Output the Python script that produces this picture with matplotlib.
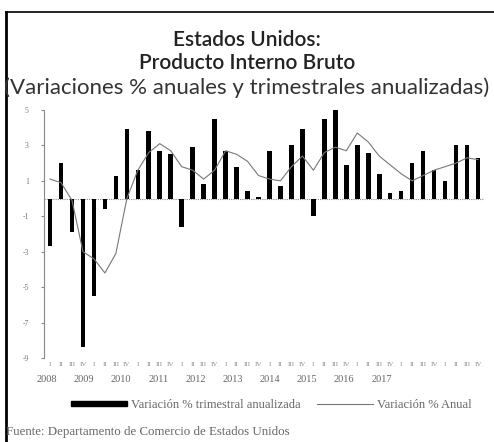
import numpy as np
import matplotlib
matplotlib.use("Agg")
import matplotlib.pyplot as plt
from matplotlib.patches import Patch
from matplotlib.lines import Line2D
import matplotlib.transforms as mtransforms

# Data
years = ["2008", "2009", "2010", "2011", "2012", "2013", "2014", "2015", "2016", "2017"]
quarters = ["I", "II", "III", "IV"]
trimestral = [-2.7, 2.0, -1.9, -8.4, -5.5, -0.6, 1.3, 3.9, 1.6, 3.8,
              2.7, 2.5, -1.6, 2.9, 0.8, 4.5, 2.7, 1.8, 0.4, 0.1,
              2.7, 0.7, 3.0, 3.9, -1.0, 4.5, 5.0, 1.9, 3.0, 2.6,
              1.4, 0.3, 0.4, 2.0, 2.7, 1.6, 1.0, 3.0, 3.0, 2.3]
anual = [1.1, 0.9, -0.1, -3.0, -3.4, -4.2, -3.1, 0.0, 1.6, 2.6,
         3.1, 2.7, 1.8, 1.6, 1.1, 1.6, 2.7, 2.5, 2.1, 1.3,
         1.1, 1.0, 1.8, 2.4, 1.6, 2.6, 2.9, 2.7, 3.7, 3.2,
         2.4, 1.9, 1.4, 1.0, 1.3, 1.6, 1.8, 2.0, 2.3, 2.2]
yticks = [5, 3, 1, -1, -3, -5, -7, -9]

W, H = 494, 442
fig = plt.figure(figsize=(W / 100, H / 100), dpi=100)
ax = fig.add_axes([44 / W, 1 - 358 / H, 440 / W, 248 / H])

x = np.arange(len(trimestral))
ax.bar(x, trimestral, width=0.42, color="black", zorder=2)
ax.plot(x, anual, color="#777777", lw=0.8, zorder=3)

ax.set_xlim(-0.55, len(x) - 0.45)
ax.set_ylim(-9, 5)
ax.axhline(0, color="#888888", lw=0.8, ls=(0, (1, 1)), zorder=1)

for s in ["top", "right", "bottom"]:
    ax.spines[s].set_visible(False)
ax.spines["left"].set_color("#888888")
ax.spines["left"].set_linestyle((0, (1, 1)))
ax.spines["left"].set_linewidth(0.8)

ax.set_yticks(yticks)
ax.set_yticklabels([str(v) for v in yticks], fontsize=5.5, color="#777777",
                   family="Liberation Serif")
ax.tick_params(axis="y", length=2, color="#888888", pad=9)

ax.set_xticks(x)
ax.set_xticklabels(quarters * len(years), fontsize=5, color="#888888",
                   family="Liberation Serif")
ax.tick_params(axis="x", length=0, pad=3)

trans = mtransforms.blended_transform_factory(ax.transData, fig.transFigure)
for k, yr in enumerate(years):
    ax.text(-0.3 + 3.39 * k, 1 - 380 / H, yr, transform=trans, ha="center",
            va="center", fontsize=7.5, color="#666666", family="Liberation Serif")

# Titles
tfam = ["Lato", "DejaVu Sans"]
fig.text(0.5, 1 - 40 / H, "Estados Unidos:", ha="center", va="center",
         fontsize=15, family=tfam, color="#222222", fontweight="semibold")
fig.text(0.5, 1 - 63 / H, "Producto Interno Bruto", ha="center", va="center",
         fontsize=15, family=tfam, color="#222222", fontweight="semibold")
fig.text(0.5, 1 - 88 / H, "(Variaciones % anuales y trimestrales anualizadas)",
         ha="center", va="center", fontsize=16, family=tfam, color="#333333")

# Legend
handles = [Patch(facecolor="black", edgecolor="black"),
           Line2D([], [], color="#777777", lw=0.8)]
labels = ["Variación % trimestral anualizada", "Variación % Anual"]
fig.legend(handles, labels, loc="center", bbox_to_anchor=(0.549, 1 - 405 / H),
           ncol=2, frameon=False, handlelength=4.5, handleheight=0.35,
           columnspacing=1.3, handletextpad=0.3,
           prop={"family": "Liberation Serif", "size": 9}, labelcolor="#666666")

fig.text(6 / W, 1 - 432 / H, "Fuente: Departamento de Comercio de Estados Unidos",
         ha="left", va="center", fontsize=9.3, family="Liberation Serif",
         color="#666666")

# Frame lines (left and top)
fig.add_artist(Line2D([6 / W, 6 / W], [0, 1 - 12 / H], transform=fig.transFigure,
                      color="black", lw=2))
fig.add_artist(Line2D([6 / W, 1], [1 - 12 / H, 1 - 12 / H], transform=fig.transFigure,
                      color="black", lw=1.2))

fig.savefig("out.png", dpi=100)
